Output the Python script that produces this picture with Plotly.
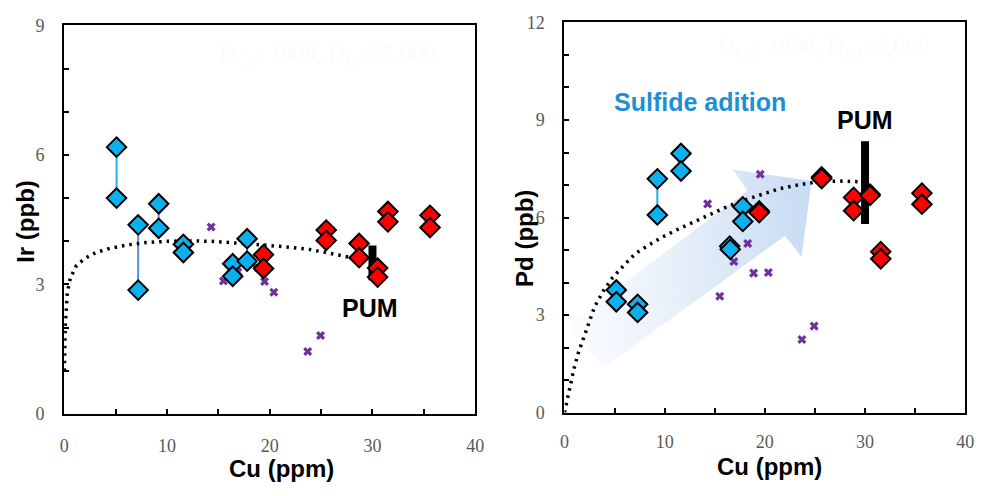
import base64
import plotly.graph_objects as go

# ---------------- Left panel: Ir vs Cu ----------------
blue_cu_ir = [5.1, 5.1, 7.2, 7.2, 9.2, 9.2, 11.6, 11.6, 16.4, 16.4, 17.8, 17.8]
blue_ir = [6.18, 5.00, 4.38, 2.87, 4.87, 4.30, 3.93, 3.74, 3.48, 3.19, 4.06, 3.54]
red_cu_ir = [19.4, 19.4, 25.5, 25.5, 28.7, 28.7, 30.5, 30.5, 31.5, 31.5, 35.6, 35.6]
red_ir = [3.69, 3.37, 4.26, 4.02, 3.95, 3.62, 3.38, 3.17, 4.69, 4.45, 4.60, 4.32]
cross_cu_ir = [14.3, 15.5, 16.9, 18.2, 18.9, 19.5, 20.4, 23.7, 24.95]
cross_ir = [4.33, 3.08, 3.29, 3.50, 3.38, 3.07, 2.82, 1.45, 1.82]
curve_cu_ir = [0.02, 0.1, 0.3, 0.6, 1.2, 2.0, 3.1, 4.5, 6.3, 8.0, 10.1, 12.0, 14.3,
               17.0, 19.1, 21.5, 23.9, 25.5, 27.1, 28.8]
curve_ir = [1.0, 2.0, 2.8, 3.15, 3.44, 3.6, 3.74, 3.84, 3.92, 3.97, 4.0, 4.01, 4.0,
            3.96, 3.92, 3.87, 3.81, 3.74, 3.66, 3.58]
tie_pairs_ir = [(0, 1), (2, 3), (4, 5), (6, 7), (10, 11)]
tie_colors_ir = ["#1fb0ee", "#4f97d8", "#3aa6e6", "#3aa6e6", "#3aa6e6"]
pum_cu = 30
pum_ir = [3.1, 3.9]

# ---------------- Right panel: Pd vs Cu ----------------
blue_cu_pd = [9.27, 9.27, 11.63, 11.63, 5.17, 5.17, 7.3, 7.3, 16.49, 16.55, 17.8, 17.8]
blue_pd = [7.19, 6.08, 7.97, 7.43, 3.77, 3.41, 3.33, 3.08, 5.12, 5.02, 6.33, 5.88]
red_cu_pd = [19.44, 19.44, 25.67, 25.67, 28.86, 28.86, 30.5, 30.5, 31.57, 31.57, 35.68, 35.68]
red_pd = [6.20, 6.15, 7.25, 7.20, 6.62, 6.21, 6.72, 6.68, 4.95, 4.73, 6.75, 6.41]
cross_cu_pd = [14.29, 19.54, 18.29, 16.91, 18.88, 20.35, 15.5, 24.92, 23.7]
cross_pd = [6.42, 7.33, 5.20, 4.65, 4.29, 4.31, 3.58, 2.66, 2.25]
curve_cu_pd = [0.0, 0.25, 0.6, 0.95, 1.4, 1.9, 2.4, 3.0, 3.9, 4.8, 6.0, 7.1, 8.3, 9.6,
               11.2, 12.9, 14.5, 16.2, 17.8, 19.5, 21.4, 23.3, 25.3, 27.5, 29.6]
curve_pd = [0.0, 0.35, 0.85, 1.35, 1.85, 2.3, 2.75, 3.25, 3.75, 4.15, 4.55, 4.9, 5.13,
            5.37, 5.62, 5.87, 6.1, 6.33, 6.52, 6.7, 6.88, 7.0, 7.1, 7.12, 7.1]
tie_pairs_pd = [(0, 1), (2, 3)]
pum_pd = [5.8, 8.35]

# arrow outline (Cu, Pd) in data units
arrow_cu = [0.41, 18.26, 16.81, 24.66, 23.67, 22.0, 3.86]
arrow_pd = [2.69, 6.83, 7.48, 7.12, 4.79, 5.44, 1.36]

BLUE = "#0db0ef"
RED = "#ff0000"
PURPLE = "#7030a0"
SANS = "Liberation Sans, Arial, sans-serif"
TITLE_FONT = dict(family=SANS, size=24, color="#000000")
TICK_FONT = dict(family="Liberation Serif, Times New Roman, serif", size=18, color="#595959")

fig = go.Figure()


def add_panel(xa, ya, bcu, bv, rcu, rv, kcu, kv, ccu, cv, ties, tie_cols, pum):
    # kcu/kv: dotted curve ; ccu/cv: crosses
    for (i, j), col in zip(ties, tie_cols):
        fig.add_trace(go.Scatter(x=[bcu[i], bcu[j]], y=[bv[i], bv[j]], mode="lines",
                                 line=dict(color=col, width=2), xaxis=xa, yaxis=ya,
                                 showlegend=False, hoverinfo="skip"))
    fig.add_trace(go.Scatter(x=kcu, y=kv, mode="lines",
                             line=dict(color="#000000", width=3.5, dash="2.5px,5px"),
                             xaxis=xa, yaxis=ya, showlegend=False, hoverinfo="skip"))
    fig.add_trace(go.Scatter(x=[pum_cu, pum_cu], y=pum, mode="lines",
                             line=dict(color="#000000", width=8),
                             xaxis=xa, yaxis=ya, showlegend=False))
    fig.add_trace(go.Scatter(x=ccu, y=cv, mode="markers",
                             marker=dict(symbol="x", size=8, color=PURPLE),
                             xaxis=xa, yaxis=ya, showlegend=False))
    fig.add_trace(go.Scatter(x=bcu, y=bv, mode="markers",
                             marker=dict(symbol="diamond", size=15, color=BLUE,
                                         line=dict(color="#000000", width=2)),
                             xaxis=xa, yaxis=ya, showlegend=False))
    fig.add_trace(go.Scatter(x=rcu, y=rv, mode="markers",
                             marker=dict(symbol="diamond", size=15, color=RED,
                                         line=dict(color="#000000", width=2)),
                             xaxis=xa, yaxis=ya, showlegend=False))


add_panel("x", "y", blue_cu_ir, blue_ir, red_cu_ir, red_ir, curve_cu_ir, curve_ir,
          cross_cu_ir, cross_ir, tie_pairs_ir, tie_colors_ir, pum_ir)
add_panel("x2", "y2", blue_cu_pd, blue_pd, red_cu_pd, red_pd, curve_cu_pd, curve_pd,
          cross_cu_pd, cross_pd, tie_pairs_pd, ["#1fb0ee", "#1fb0ee"], pum_pd)

# gradient arrow as an SVG image in data coordinates of the right panel
pts = " ".join(f"{x:.3f},{12 - y:.3f}" for x, y in zip(arrow_cu, arrow_pd))
svg = (
    '<svg xmlns="http://www.w3.org/2000/svg" viewBox="0 0 40 12" preserveAspectRatio="none" '
    'width="400" height="120">'
    '<defs><linearGradient id="g" gradientUnits="userSpaceOnUse" x1="2.1" y1="10" x2="23" y2="4.9">'
    '<stop offset="0" stop-color="#c8dbf3" stop-opacity="0.1"/>'
    '<stop offset="1" stop-color="#c2d7f2" stop-opacity="0.85"/>'
    '</linearGradient></defs>'
    f'<polygon points="{pts}" fill="url(#g)"/></svg>'
)
src = "data:image/svg+xml;base64," + base64.b64encode(svg.encode()).decode()
fig.add_layout_image(dict(source=src, xref="x2", yref="y2", x=0, y=12, sizex=40, sizey=12,
                          xanchor="left", yanchor="top", sizing="stretch", layer="below"))


def axis(dom, rng, dtick, minor, anchor, standoff):
    return dict(domain=dom, range=rng, dtick=dtick, tick0=0, anchor=anchor,
                showline=True, linecolor="#000000", linewidth=2, mirror=True,
                ticks="inside", ticklen=5, tickwidth=1.5, tickcolor="#000000",
                minor=dict(dtick=minor, ticks="inside", ticklen=5, tickwidth=1.5,
                           tickcolor="#000000", showgrid=False),
                showgrid=False, zeroline=False, tickfont=TICK_FONT,
                ticklabelstandoff=standoff)


W, H = 989, 496
fig.update_layout(
    width=W, height=H, margin=dict(l=0, r=0, t=0, b=0),
    paper_bgcolor="#ffffff", plot_bgcolor="rgba(0,0,0,0)",
    xaxis=axis([60 / W, 477 / W], [0, 40], 10, 5, "y", 14),
    yaxis=axis([(H - 421) / H, (H - 16) / H], [0, 9], 3, 1, "x", 14),
    xaxis2=axis([567.5 / W, 974 / W], [0, 40], 10, 5, "y2", 12),
    yaxis2=axis([(H - 419.5) / H, (H - 13) / H], [0, 12], 3, 1, "x2", 14),
)


def pa(text, px, py, **kw):
    d = dict(text=text, x=px / W, y=(H - py) / H, xref="paper", yref="paper",
             showarrow=False, xanchor="center", yanchor="middle")
    d.update(kw)
    return d


ann = [
    pa("<b>Cu (ppm)</b>", 280, 478, font=TITLE_FONT),
    pa("<b>Cu (ppm)</b>", 775, 476, font=TITLE_FONT),
    pa("<b>Ir (ppb)</b>", 20, 220, textangle=-90, font=TITLE_FONT),
    pa("<b>Pd (ppb)</b>", 527, 238, textangle=-90, font=TITLE_FONT),
    pa("D<sub>Cu</sub>: 1000, D<sub>Ir</sub>: 35,000", 327, 47,
       font=dict(family="Liberation Serif, serif", size=24, color="#fbfbfb")),
    pa("D<sub>Cu</sub>: 1000, D<sub>Pd</sub>: 5,000", 830, 40,
       font=dict(family="Liberation Serif, serif", size=24, color="#fbfbfb")),
    dict(text="<b>PUM</b>", x=29.8, y=2.45, xref="x", yref="y", showarrow=False,
         xanchor="center", yanchor="middle", font=dict(family=SANS, size=25, color="#000000")),
    dict(text="<b>PUM</b>", x=30.0, y=9.0, xref="x2", yref="y2", showarrow=False,
         xanchor="center", yanchor="middle", font=dict(family=SANS, size=25, color="#000000")),
    dict(text="<b>Sulfide adition</b>", x=4.7, y=9.54, xref="x2", yref="y2",
         xanchor="left", yanchor="middle", showarrow=False,
         font=dict(family=SANS, size=25, color="#1f8fd4")),
]
fig.update_layout(annotations=ann)

fig.write_html("out.html")
